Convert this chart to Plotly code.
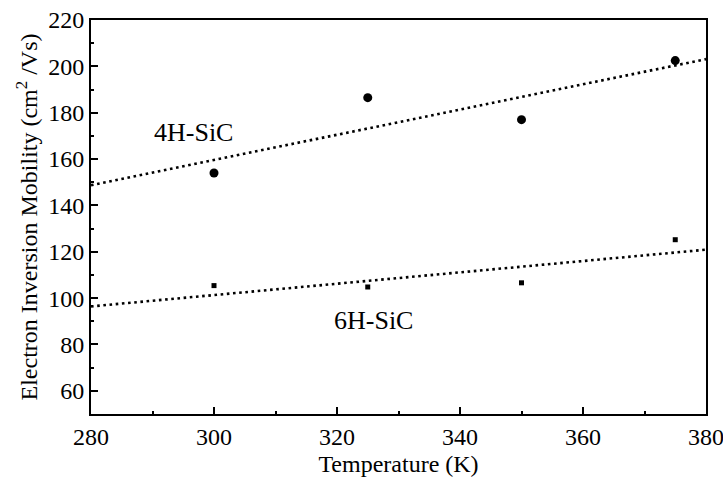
import numpy as np
import plotly.graph_objects as go

temps = [300, 325, 350, 375]
mob_4h = [154, 186.5, 177, 202.5]
mob_6h = [105.4, 104.8, 106.6, 125.2]
x_ticks = [280, 300, 320, 340, 360, 380]
y_ticks = [60, 80, 100, 120, 140, 160, 180, 200, 220]
fit_x = [280, 380]

FONT = "'Liberation Serif', 'DejaVu Serif', 'Times New Roman', serif"

fig = go.Figure()

for ys, size, sym in [(mob_4h, 9, "circle"), (mob_6h, 5, "square")]:
    k, b = np.polyfit(temps, ys, 1)
    fy = [k * x + b for x in fit_x]
    fig.add_trace(go.Scatter(x=fit_x, y=fy, mode="lines",
                             line=dict(color="black", width=2.6, dash="2.6px,3.6px"),
                             showlegend=False, hoverinfo="skip"))
    fig.add_trace(go.Scatter(x=temps, y=ys, mode="markers",
                             marker=dict(color="black", size=size, symbol=sym),
                             showlegend=False))

fig.add_annotation(x=296.6, y=171.5, text="4H-SiC", showarrow=False,
                   font=dict(family=FONT, size=26, color="black"))
fig.add_annotation(x=325.9, y=90.5, text="6H-SiC", showarrow=False,
                   font=dict(family=FONT, size=26, color="black"))

axis_common = dict(showline=True, linecolor="black", linewidth=2, mirror=True,
                   showgrid=False, zeroline=False, ticks="inside", tickcolor="black",
                   tickwidth=1.5, ticklen=7, ticklabeloverflow="allow", automargin=False,
                   tickfont=dict(family=FONT, size=24, color="black"))

fig.update_xaxes(range=[280, 380], tickvals=x_ticks,
                 minor=dict(dtick=10, ticks="inside", ticklen=3, tickcolor="black", tickwidth=1.5),
                 title=dict(text="Temperature (K)", font=dict(family=FONT, size=24, color="black"),
                            standoff=6),
                 **axis_common)
fig.update_yaxes(range=[50, 220], tickvals=y_ticks,
                 minor=dict(dtick=10, ticks="inside", ticklen=3, tickcolor="black", tickwidth=1.5),
                 title=dict(text="Electron Inversion Mobility (cm<sup>2</sup> /Vs)",
                            font=dict(family=FONT, size=24, color="black"), standoff=4),
                 **axis_common)

fig.update_layout(width=723, height=487, paper_bgcolor="white", plot_bgcolor="white",
                  font=dict(family=FONT, color="black"),
                  margin=dict(l=91, r=17, t=20, b=73))

fig.write_html("out.html")
